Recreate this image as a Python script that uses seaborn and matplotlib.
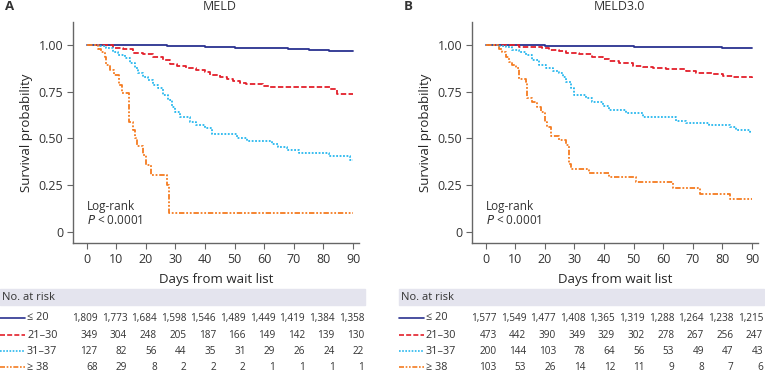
import matplotlib
matplotlib.use("Agg")
import matplotlib.pyplot as plt
import seaborn as sns
import pandas as pd
from matplotlib.patches import Rectangle
from matplotlib.lines import Line2D

# ---- data ---------------------------------------------------------------
groups = ["≤ 20", "21–30", "31–37", "≥ 38"]
risk_days = [0, 10, 20, 30, 40, 50, 60, 70, 80, 90]

# panel A: MELD (Kaplan-Meier step points: time, survival)
meld_le20_t = [0, 15, 27, 40, 50, 60, 68, 75, 82, 90]
meld_le20_s = [1.0, 0.998, 0.994, 0.99, 0.986, 0.982, 0.979, 0.975, 0.970, 0.968]
meld_21_t = [0, 4.4, 9, 12.3, 15.7, 19, 22.5, 25.8, 28, 30.4, 33.7, 37.1, 40, 41.6, 45, 47.3,
             49.5, 51.8, 54, 59.7, 61.9, 75.5, 82.3, 84.5, 90]
meld_21_s = [1.0, 0.998, 0.986, 0.977, 0.959, 0.95, 0.934, 0.92, 0.90, 0.888, 0.875, 0.866,
             0.854, 0.84, 0.827, 0.818, 0.807, 0.798, 0.79, 0.782, 0.777, 0.773, 0.763, 0.738, 0.737]
meld_31_t = [0, 4.4, 6.7, 9, 10.6, 12.9, 14.6, 16.3, 17.4, 19.1, 20.8, 22.5, 24.2, 25.8, 27.5,
             28.7, 29.8, 31.5, 34.9, 37.1, 40, 42.2, 50.7, 54.1, 62.5, 64.8, 67.6, 71.6, 81.7, 89, 90]
meld_31_s = [1.0, 0.995, 0.982, 0.964, 0.946, 0.929, 0.902, 0.875, 0.848, 0.83, 0.812, 0.786,
             0.768, 0.732, 0.705, 0.67, 0.643, 0.616, 0.589, 0.571, 0.554, 0.523, 0.505, 0.488,
             0.47, 0.455, 0.437, 0.42, 0.405, 0.384, 0.384]
meld_38_t = [0, 3.8, 5, 6.1, 6.7, 8, 9.2, 10.9, 12, 14.3, 15.5, 16.3, 17.1, 18.9, 20.2, 21.9,
             27.2, 27.9, 90]
meld_38_s = [1.0, 0.98, 0.964, 0.937, 0.893, 0.866, 0.84, 0.786, 0.742, 0.59, 0.545, 0.50,
             0.46, 0.41, 0.358, 0.305, 0.251, 0.103, 0.103]

# panel B: MELD3.0
m3_le20_t = [0, 20, 30, 40, 50, 60, 70, 80, 90]
m3_le20_s = [1.0, 0.997, 0.995, 0.993, 0.991, 0.988, 0.987, 0.985, 0.982]
m3_21_t = [0, 4.5, 11.3, 15.8, 19.2, 21.5, 24.8, 27.1, 31.6, 36.1, 39.5, 41.8, 45.2, 49.7, 53.1,
           56.5, 61, 67.7, 71.1, 76.8, 80.2, 83.6, 90]
m3_21_s = [1.0, 0.998, 0.991, 0.988, 0.982, 0.973, 0.968, 0.959, 0.95, 0.9375, 0.923, 0.914,
           0.902, 0.889, 0.880, 0.875, 0.870, 0.8625, 0.852, 0.843, 0.834, 0.827, 0.826]
m3_31_t = [0, 4.5, 6.8, 9, 11.3, 13.5, 15.8, 18, 20.3, 22.6, 24.8, 26, 27.1, 28.8, 29.9, 33.9,
           36.1, 39.5, 41.8, 47.4, 53.1, 64.4, 67.7, 75.6, 82.4, 84.7, 89.2, 90]
m3_31_s = [1.0, 0.995, 0.991, 0.973, 0.964, 0.946, 0.92, 0.893, 0.875, 0.862, 0.848, 0.83, 0.80,
           0.768, 0.732, 0.714, 0.696, 0.673, 0.655, 0.634, 0.6125, 0.595, 0.584, 0.571, 0.559,
           0.548, 0.536, 0.536]
m3_38_t = [0, 4.5, 5.6, 6.8, 7.9, 9, 10.2, 11.3, 13.5, 14.1, 15.8, 17.5, 18.6, 20.1, 20.9, 22,
           24.8, 27.1, 28, 28.8, 35, 41.8, 50.8, 63.2, 72.3, 82.4, 90]
m3_38_s = [1.0, 0.98, 0.964, 0.9375, 0.91, 0.893, 0.875, 0.82, 0.80, 0.714, 0.696, 0.67, 0.643,
           0.589, 0.5625, 0.5125, 0.491, 0.464, 0.366, 0.339, 0.318, 0.295, 0.268, 0.236, 0.205,
           0.175, 0.175]

meld_risk = [
    ["1,809", "1,773", "1,684", "1,598", "1,546", "1,489", "1,449", "1,419", "1,384", "1,358"],
    ["349", "304", "248", "205", "187", "166", "149", "142", "139", "130"],
    ["127", "82", "56", "44", "35", "31", "29", "26", "24", "22"],
    ["68", "29", "8", "2", "2", "2", "1", "1", "1", "1"],
]
m3_risk = [
    ["1,577", "1,549", "1,477", "1,408", "1,365", "1,319", "1,288", "1,264", "1,238", "1,215"],
    ["473", "442", "390", "349", "329", "302", "278", "267", "256", "247"],
    ["200", "144", "103", "78", "64", "56", "53", "49", "47", "43"],
    ["103", "53", "26", "14", "12", "11", "9", "8", "7", "6"],
]

colors = ["#2a3190", "#e3202b", "#27b7ee", "#f47b20"]
styles = ["-", (0, (3, 1.3)), (0, (1, 0.9)), (0, (3, 1, 1, 1, 1, 1))]

# ---- style --------------------------------------------------------------
sns.set_style("ticks")
plt.rcParams["font.family"] = ["Open Sans", "DejaVu Sans"]
plt.rcParams["text.color"] = "#333333"

W, H = 765, 373
fig = plt.figure(figsize=(W / 100, H / 100), dpi=100)


def fx(px):
    return px / W


def fy(py):
    return 1 - py / H


def panel(left_px, title, letter, curves, risk):
    ax = fig.add_axes([fx(left_px), fy(243), 286 / W, (243 - 22) / H])
    for (t, s), c, ls in zip(curves, colors, styles):
        df = pd.DataFrame({"day": t, "surv": s})
        sns.lineplot(data=df, x="day", y="surv", ax=ax, color=c, linestyle=ls,
                     lw=1.3, drawstyle="steps-post", estimator=None, sort=False)
    ax.set_xlim(-4.6, 92)
    ax.set_ylim(-0.059, 1.123)
    ax.set_xticks(risk_days)
    ax.set_yticks([0, 0.25, 0.5, 0.75, 1.0])
    ax.set_yticklabels(["0", "0.25", "0.50", "0.75", "1.00"])
    ax.set_xlabel("Days from wait list", fontsize=9.5, labelpad=5)
    ax.set_ylabel("Survival probability", fontsize=9.5, labelpad=4)
    ax.tick_params(labelsize=9, length=4, width=0.8, pad=3, color="#666666", labelcolor="#333333")
    for sp in ["left", "bottom"]:
        ax.spines[sp].set_color("#666666")
        ax.spines[sp].set_linewidth(1.0)
    sns.despine(ax=ax)
    ax.text(0, 0.135, "Log-rank", fontsize=8.5, va="center")
    ax.text(0, 0.06, "$P$ < 0.0001", fontsize=8.5, va="center")

    # title and panel letter
    fig.text(fx(left_px + 147), fy(7), title, fontsize=9, ha="center", va="center")
    fig.text(fx(left_px - 68), fy(7), letter, fontsize=9.5, fontweight="bold", va="center")

    # risk table
    x0 = left_px - 73
    fig.patches.append(Rectangle((fx(x0), fy(305)), fx(365), 16 / H,
                                 transform=fig.transFigure, color="#e4e4ee", zorder=0))
    fig.text(fx(x0 + 2), fy(297), "No. at risk", fontsize=8, va="center")
    rows_y = [318, 335, 351, 367]
    for i, ry in enumerate(rows_y):
        fig.lines.append(Line2D([fx(x0), fx(x0 + 25)], [fy(ry), fy(ry)], transform=fig.transFigure,
                                color=colors[i], linestyle=styles[i], lw=1.2))
        fig.text(fx(x0 + 27), fy(ry), groups[i], fontsize=7.8, va="center")
        for d, val in zip(risk_days, risk[i]):
            xd = ax.transData.transform((d, 0))[0] / fig.dpi / fig.get_figwidth()
            fig.text(xd + 11 / W, fy(ry), val, fontsize=7.2, va="center", ha="right")
    return ax


panel(73, "MELD", "A",
      [(meld_le20_t, meld_le20_s), (meld_21_t, meld_21_s),
       (meld_31_t, meld_31_s), (meld_38_t, meld_38_s)], meld_risk)
panel(472, "MELD3.0", "B",
      [(m3_le20_t, m3_le20_s), (m3_21_t, m3_21_s),
       (m3_31_t, m3_31_s), (m3_38_t, m3_38_s)], m3_risk)

fig.savefig("out.png", dpi=100)
